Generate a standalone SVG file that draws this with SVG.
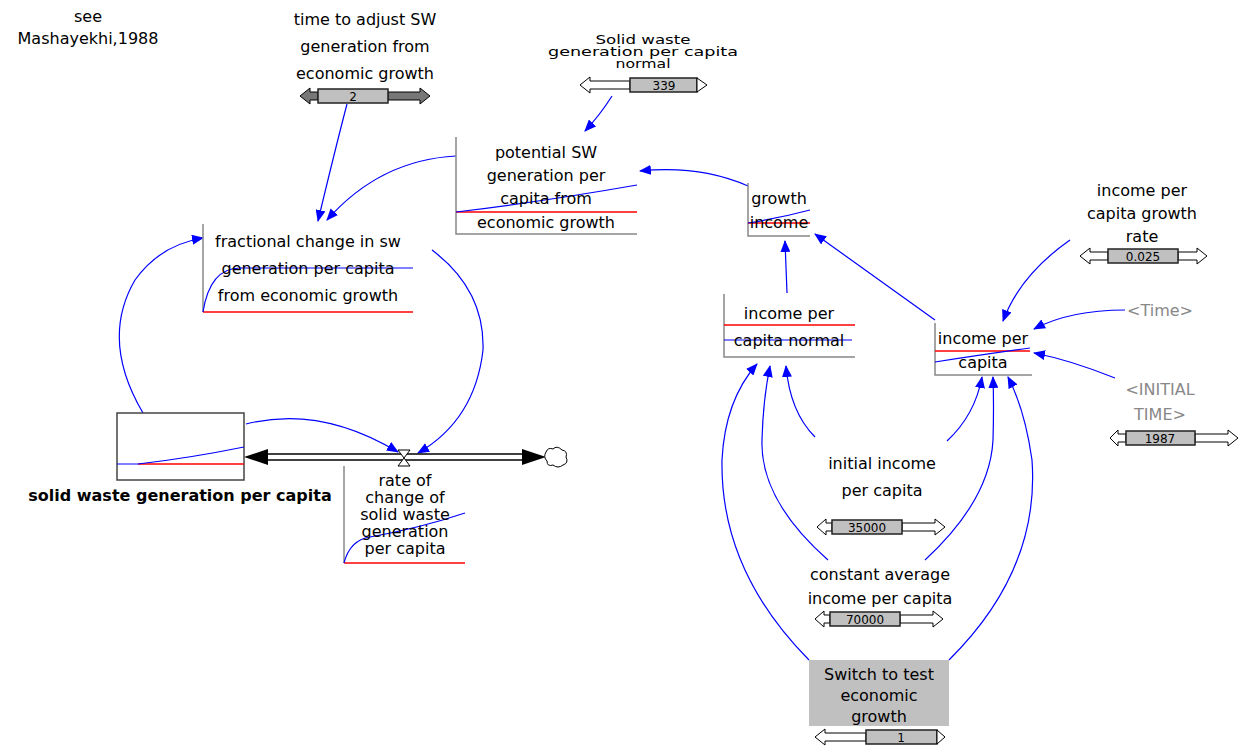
<svg xmlns="http://www.w3.org/2000/svg" width="1247" height="749" viewBox="0 0 1247 749">
<defs>
<marker id="ah" viewBox="0 0 12 10" refX="11" refY="5" markerWidth="12" markerHeight="10" markerUnits="userSpaceOnUse" orient="auto">
<path d="M0,0 L12,5 L0,10 z" fill="#0000ff"/>
</marker>
</defs>
<style>
text{font-family:"DejaVu Sans","Liberation Sans",Arial,sans-serif;font-size:16px;fill:#000;text-anchor:middle}
.g{fill:#888}
.b{font-weight:bold;font-size:16px}
.v{font-size:12px}
.box{fill:none;stroke:#888;stroke-width:1.5}
.red{stroke:#ff0000;stroke-width:1.5;fill:none}
.blu{stroke:#0000ff;stroke-width:1.2;fill:none}
.lk{stroke:#0000ff;stroke-width:1.2;fill:none;marker-end:url(#ah)}
.sl{fill:#fff;stroke:#000;stroke-width:1}
.sd{fill:#777;stroke:#000;stroke-width:1}
.sb{fill:#c0c0c0;stroke:#222;stroke-width:1.5}
</style>
<rect width="1247" height="749" fill="#fff"/>

<g id="note">
<text x="88" y="22">see</text>
<text x="88" y="44">Mashayekhi,1988</text>
</g>

<g id="connectors">
<path class="lk" d="M347,104 Q335,150 318,221"/>
<path class="lk" d="M456,156 Q380,160 327,220"/>
<path class="lk" d="M612,96 Q600,115 585,131"/>
<path class="lk" d="M748,186 Q700,165 640,171"/>
<path class="lk" d="M787,293 L785,241"/>
<path class="lk" d="M935,320 L815,234"/>
<path class="lk" d="M143,413 Q100,340 135,280 Q160,245 203,238"/>
<path class="lk" d="M432,250 Q485,290 483,350 Q475,420 418,453"/>
<path class="lk" d="M246,424 Q320,405 398,452"/>
<path class="lk" d="M1070,240 Q1020,275 1003,321"/>
<path class="lk" d="M1125,310 Q1070,310 1034,329"/>
<path class="lk" d="M1115,378 Q1070,360 1034,353"/>
<path class="lk" d="M815,437 Q790,412 786,366"/>
<path class="lk" d="M947,441 Q975,415 982,377"/>
<path class="lk" d="M828,560 Q760,500 762,440 Q763,400 770,366"/>
<path class="lk" d="M925,560 Q990,500 993,440 Q994,405 993,377"/>
<path class="lk" d="M809,660 Q720,570 722,460 Q725,400 757,364"/>
<path class="lk" d="M949,660 Q1040,570 1032,460 Q1025,410 1008,377"/>
</g>

<g id="flow">
<line x1="266" y1="454" x2="524" y2="454" stroke="#000" stroke-width="1.5"/>
<line x1="266" y1="460" x2="524" y2="460" stroke="#000" stroke-width="1.5"/>
<path d="M268,449 L244,457 L268,465 z" fill="#000"/>
<path d="M522,449 L546,457 L522,465 z" fill="#000"/>
<path d="M546,452 Q548,447 553,449 Q557,445 562,450 Q568,451 566,457 Q569,463 563,465 Q558,469 553,465 Q547,467 547,461 Q543,457 546,452 z" fill="#fff" stroke="#000" stroke-width="1"/>
<path d="M398,450 L410,450 L398,466 L410,466 z" fill="#fff" stroke="#000" stroke-width="1"/>
</g>

<g id="time_to_adjust">
<text x="365" y="25">time to adjust SW</text>
<text x="365" y="52">generation from</text>
<text x="365" y="79">economic growth</text>
<polygon class="sd" points="300,96 310,88 310,92 318,92 318,100 310,100 310,104"/>
<polygon class="sd" points="388,92 420,92 420,88 430,96 420,104 420,100 388,100"/>
<rect class="sb" x="318" y="89" width="70" height="14"/>
<text class="v" x="353" y="101">2</text>
</g>

<g id="sw_normal">
<text x="643" y="44" style="font-size:12px" textLength="95" lengthAdjust="spacingAndGlyphs">Solid waste</text>
<text x="643" y="56" style="font-size:12px" textLength="190" lengthAdjust="spacingAndGlyphs">generation per capita</text>
<text x="643" y="68" style="font-size:12px" textLength="55" lengthAdjust="spacingAndGlyphs">normal</text>
<polygon class="sl" points="580,85 590,77 590,81 630,81 630,89 590,89 590,93"/>
<rect class="sb" x="630" y="78" width="67" height="14"/>
<polygon class="sl" points="697,78 707,85 697,92"/>
<text class="v" x="664" y="90">339</text>
</g>

<g id="potential_sw">
<path class="box" d="M456,137 L456,234 L637,234"/>
<line class="red" x1="456" y1="212" x2="637" y2="212"/>
<path class="blu" d="M456,212 Q540,202 637,185"/>
<text x="546" y="158">potential SW</text>
<text x="546" y="181">generation per</text>
<text x="546" y="204">capita from</text>
<text x="546" y="228">economic growth</text>
</g>

<g id="growth_income">
<path class="box" d="M748,183 L748,236 L810,236"/>
<line class="red" x1="748" y1="223" x2="810" y2="223"/>
<path class="blu" d="M748,223 Q780,218 810,210"/>
<text x="779" y="204">growth</text>
<text x="779" y="228">income</text>
</g>

<g id="fractional_change">
<path class="box" d="M203,224 L203,312"/>
<line class="red" x1="203" y1="312" x2="413" y2="312"/>
<path class="blu" d="M203,312 Q210,268 240,268 L413,268"/>
<text x="308" y="247">fractional change in sw</text>
<text x="308" y="274">generation per capita</text>
<text x="308" y="301">from economic growth</text>
</g>

<g id="stock">
<rect x="117" y="413" width="127" height="67" fill="#fff" stroke="#444" stroke-width="1.5"/>
<line class="red" x1="138" y1="464" x2="244" y2="464"/>
<path class="blu" d="M117,464 L138,464 Q190,458 244,447"/>
<text class="b" x="180" y="501">solid waste generation per capita</text>
</g>

<g id="rate">
<path class="box" d="M344,466 L344,563"/>
<line class="red" x1="344" y1="563" x2="465" y2="563"/>
<path class="blu" d="M344,563 Q350,540 370,537 Q420,528 465,513"/>
<text x="405" y="486">rate of</text>
<text x="405" y="503">change of</text>
<text x="405" y="520">solid waste</text>
<text x="405" y="537">generation</text>
<text x="405" y="554">per capita</text>
</g>

<g id="ipc_normal">
<path class="box" d="M724,294 L724,357 L855,357"/>
<line class="red" x1="724" y1="325" x2="855" y2="325"/>
<line class="blu" x1="724" y1="340" x2="852" y2="340"/>
<text x="789" y="319">income per</text>
<text x="789" y="346">capita normal</text>
</g>

<g id="ipc">
<path class="box" d="M935,323 L935,375 L1032,375"/>
<line class="red" x1="935" y1="351" x2="1030" y2="351"/>
<path class="blu" d="M935,362 Q980,355 1030,348"/>
<text x="983" y="344">income per</text>
<text x="983" y="368">capita</text>
</g>

<g id="ipc_growth_rate">
<text x="1142" y="196">income per</text>
<text x="1142" y="219">capita growth</text>
<text x="1142" y="242">rate</text>
<polygon class="sl" points="1080,256 1090,248 1090,252 1108,252 1108,260 1090,260 1090,264"/>
<polygon class="sl" points="1178,252 1197,252 1197,248 1207,256 1197,264 1197,260 1178,260"/>
<rect class="sb" x="1108" y="249" width="70" height="14"/>
<text class="v" x="1143" y="261">0.025</text>
</g>

<g id="time_shadow">
<text class="g" x="1160" y="316">&lt;Time&gt;</text>
</g>

<g id="initial_time">
<text class="g" x="1160" y="395">&lt;INITIAL</text>
<text class="g" x="1160" y="420">TIME&gt;</text>
<polygon class="sl" points="1110,438 1118,430 1118,434 1126,434 1126,442 1118,442 1118,446"/>
<polygon class="sl" points="1195,434 1228,434 1228,430 1238,438 1228,446 1228,442 1195,442"/>
<rect class="sb" x="1126" y="431" width="69" height="14"/>
<text class="v" x="1160" y="443">1987</text>
</g>

<g id="initial_ipc">
<text x="882" y="469">initial income</text>
<text x="882" y="496">per capita</text>
<polygon class="sl" points="817,527 826,519 826,523 832,523 832,531 826,531 826,535"/>
<polygon class="sl" points="902,523 935,523 935,519 945,527 935,535 935,531 902,531"/>
<rect class="sb" x="832" y="520" width="70" height="14"/>
<text class="v" x="867" y="532">35000</text>
</g>

<g id="constant_avg">
<text x="880" y="580">constant average</text>
<text x="880" y="604">income per capita</text>
<polygon class="sl" points="815,619 824,611 824,615 830,615 830,623 824,623 824,627"/>
<polygon class="sl" points="900,615 933,615 933,611 943,619 933,627 933,623 900,623"/>
<rect class="sb" x="830" y="612" width="70" height="14"/>
<text class="v" x="865" y="624">70000</text>
</g>

<g id="switch">
<rect x="809" y="660" width="140" height="66" fill="#c0c0c0"/>
<text x="879" y="680">Switch to test</text>
<text x="879" y="701">economic</text>
<text x="879" y="722">growth</text>
<polygon class="sl" points="815,737 825,729 825,733 866,733 866,741 825,741 825,745"/>
<rect class="sb" x="866" y="730" width="71" height="14"/>
<polygon class="sl" points="937,730 945,737 937,744"/>
<text class="v" x="901" y="742">1</text>
</g>
</svg>
